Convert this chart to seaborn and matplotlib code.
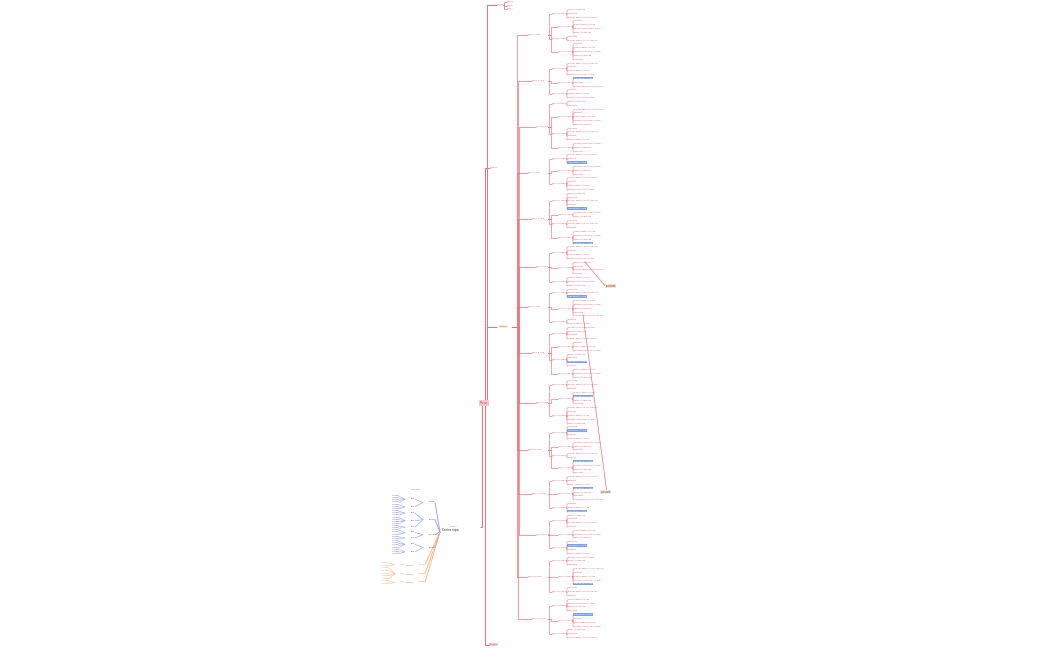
import matplotlib
matplotlib.use("Agg")
import matplotlib.pyplot as plt
import seaborn as sns

sns.set_theme(style="white")
plt.rcParams['font.family'] = ['DejaVu Sans']

# ---- data: mind-map structure (leaf counts per sub-branch) ----
top_leaves = ["item a", "item b", "item c"]
main_groups = [[3, 4, 2, 5], [4, 3, 3], [2, 5, 4, 3], [3, 3, 4], [5, 2, 3, 4],
               [4, 4, 3], [3, 5, 2], [4, 3, 4, 3], [3, 4, 5], [4, 3, 2, 4],
               [3, 4, 3], [4, 3, 4], [3, 5, 3], [4, 4, 3]]
highlight_leaves = [18, 40, 52, 61, 75, 92, 101, 110, 118, 125, 131, 140, 150, 158]
leaf_texts = ["detail note text line", "short note", "a longer detail note text line here",
              "note text", "medium detail note line", "another explanation note text"]
left_blue = [[4, 3], [3, 4, 2], [3, 2], [4, 3]]
left_orange = [[2], [5], [2]]
root_label = "Root"
branch_label = "Branch"

RED = "#e0505c"; PINK = "#ee6f7a"; BLUE = "#3344cc"; LBLUE = "#7aa0ee"; ORANGE = "#f08a3c"

fig = plt.figure(figsize=(10.5, 6.5), dpi=100)
ax = fig.add_axes([0, 0, 1, 1])
ax.set_xlim(0, 1050); ax.set_ylim(650, 0); ax.axis("off")

def edge(x0, y0, x1, y1, c, lw=0.5):
    xm = x0 + (x1 - x0) * 0.3
    ax.plot([x0, xm, xm, x1], [y0, y0, y1, y1], color=c, lw=lw, solid_capstyle="butt")

def label(x, y, t, c, fs=1.6, box=None, ha="left"):
    kw = {}
    if box:
        kw["bbox"] = dict(boxstyle="square,pad=0.3", fc=box, ec="none")
    ax.text(x, y, t, fontsize=fs, color=c, va="bottom", ha=ha, **kw)

root = (483, 405)
label(root[0] - 3, root[1], root_label, RED, fs=2.5, box="#f8c8cc")

edge(root[0], root[1], 497, 5, PINK, 0.7)
label(497, 5, branch_label, RED)
for i, t in enumerate(top_leaves):
    y = 2 + i * 3.5
    edge(503, 5, 507, y, PINK)
    label(507, y, t, RED, fs=1.3)

edge(root[0], root[1], 490, 168, PINK, 0.7); label(490, 168, branch_label, RED)
edge(root[0], root[1], 490, 645, PINK, 0.7); label(490, 645, branch_label, RED, box="#f8c8cc")

n_leaves = sum(sum(g) for g in main_groups)
y_top, y_bot = 8, 640
step = (y_bot - y_top) / n_leaves
mb = (497, 327)
edge(root[0], root[1], mb[0], mb[1], PINK, 0.7)
label(mb[0] + 3, mb[1], branch_label, "#666633", fs=1.6, box="#f4efc8")
k = 0
for gi, g in enumerate(main_groups):
    gcount = sum(g)
    gy = y_top + (k + gcount / 2) * step
    edge(mb[0] + 15, mb[1], 528 + (gi % 3) * 4, gy, PINK, 0.5)
    label(528 + (gi % 3) * 4, gy, "topic %d title" % (gi + 1), RED, fs=1.5)
    for si, s in enumerate(g):
        sy = y_top + (k + s / 2) * step
        sx = 552 + (si % 2) * 6
        edge(548, gy, sx, sy, PINK, 0.45)
        label(sx, sy, "sub-topic name", RED, fs=1.3)
        for li in range(s):
            ly = y_top + (k + 0.5) * step
            lx = sx + 16
            edge(sx + 14, sy, lx, ly, PINK, 0.35)
            if k in highlight_leaves:
                label(lx, ly, "highlighted note text", "white", fs=1.3, box=LBLUE)
            else:
                label(lx, ly, leaf_texts[k % len(leaf_texts)], RED, fs=1.3)
            k += 1

label(606, 287, "note box\nwith text", "#333333", fs=1.5, box="#fbe2c4")
label(601, 493, "note box\nwith text", "#333333", fs=1.5, box="#e8ecd8")
ax.plot([585, 606], [262, 287], color=PINK, lw=0.5)
ax.plot([583, 607], [315, 493], color=PINK, lw=0.5)

lb = (470, 527)
edge(root[0], root[1], lb[0] + 10, lb[1], PINK, 0.7)
label(lb[0] - 20, lb[1], branch_label, RED)
center = (450, 532)
label(center[0], center[1], "Centre topic", "#222222", fs=2.0, ha="center")

def left_tree(groups, cx, cy0, cy1, col, lcol):
    total = sum(sum(g) for g in groups)
    st = (cy1 - cy0) / total
    kk = 0
    for g in groups:
        gc = sum(g)
        gy = cy0 + (kk + gc / 2) * st
        ax.plot([center[0] - 10, cx], [center[1], gy], color=lcol, lw=0.6)
        label(cx, gy, "group", col, fs=1.5, ha="right")
        for s in g:
            sy = cy0 + (kk + s / 2) * st
            ax.plot([cx - 12, cx - 20], [gy, sy], color=lcol, lw=0.4)
            label(cx - 20, sy, "item", col, fs=1.3, ha="right")
            for _ in range(s):
                ly = cy0 + (kk + 0.5) * st
                ax.plot([cx - 30, cx - 36], [sy, ly], color=lcol, lw=0.3)
                label(cx - 36, ly, "leaf text", col, fs=1.2, ha="right")
                kk += 1

left_tree(left_blue, 435, 495, 555, BLUE, "#8899ee")
left_tree(left_orange, 425, 562, 585, ORANGE, "#f5b07a")
label(420, 490, "note label", RED, fs=1.3, ha="right")

fig.savefig("out.png", dpi=100)
